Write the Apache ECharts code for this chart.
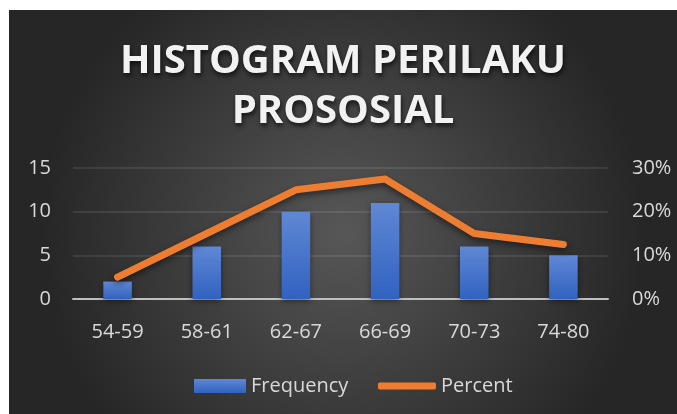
<!DOCTYPE html>
<html>
<head>
<meta charset="utf-8" />
<script type="text/javascript" src="https://cdn.jsdelivr.net/npm/echarts@6/dist/echarts.min.js"></script>
<title></title>
<style>
  html, body { margin:0; padding:0; background:#fff; }
  #main { position:absolute; left:9px; top:10px; width:668px; height:404px; }
</style>
</head>
<body>
<div id="main"></div>
<script>
// data
var categories = ['54-59', '58-61', '62-67', '66-69', '70-73', '74-80'];
var frequency = [2, 6, 10, 11, 6, 5];
var percent = [0.05, 0.15, 0.25, 0.275, 0.15, 0.125];
var titleText = 'HISTOGRAM PERILAKU\nPROSOSIAL';

var font = 'Open Sans';
var labelColor = '#d9d9d9';
var legendText = { fontFamily: font, fontSize: 20, color: labelColor };

var chart = echarts.init(document.getElementById('main'));
chart.setOption({
  backgroundColor: {
    type: 'radial', x: 0.5, y: 0.55, r: 0.75,
    colorStops: [
      { offset: 0, color: '#575757' },
      { offset: 1, color: '#262626' }
    ]
  },
  animation: false,
  title: {
    text: titleText,
    left: 'center',
    top: 22,
    textStyle: {
      fontFamily: font,
      fontSize: 40,
      fontWeight: 'bold',
      color: '#f2f2f2',
      lineHeight: 50,
      align: 'center',
      textShadowColor: 'rgba(0,0,0,0.7)',
      textShadowBlur: 5,
      textShadowOffsetX: 1,
      textShadowOffsetY: 3
    }
  },
  // two legends so each icon can have its own height
  legend: [
    {
      left: 180, top: 361,
      itemWidth: 52, itemHeight: 14,
      textStyle: legendText,
      data: [{ name: 'Frequency', icon: 'rect' }]
    },
    {
      left: 364, top: 361,
      itemWidth: 58, itemHeight: 7,
      itemGap: 4,
      textStyle: legendText,
      data: [{ name: 'Percent', icon: 'roundRect', itemStyle: { color: '#ed7d31' } }]
    }
  ],
  grid: { left: 64, right: 69, top: 158, bottom: 115, containLabel: false },
  xAxis: {
    type: 'category',
    data: categories,
    axisTick: { show: false },
    axisLine: { lineStyle: { color: '#bfbfbf', width: 2 } },
    axisLabel: { margin: 23, fontFamily: font, fontSize: 20, color: labelColor }
  },
  yAxis: [
    {
      type: 'value', min: 0, max: 15, interval: 5,
      axisLine: { show: false }, axisTick: { show: false },
      axisLabel: { margin: 22, fontFamily: font, fontSize: 20, color: labelColor },
      splitLine: { lineStyle: { color: 'rgba(255,255,255,0.13)', width: 1.5 } }
    },
    {
      type: 'value', min: 0, max: 0.3, interval: 0.1,
      axisLine: { show: false }, axisTick: { show: false },
      axisLabel: {
        margin: 24, fontFamily: font, fontSize: 20, color: labelColor,
        formatter: function (v) { return Math.round(v * 100) + '%'; }
      },
      splitLine: { show: false }
    }
  ],
  series: [
    {
      name: 'Frequency',
      type: 'bar',
      data: frequency,
      barWidth: '32%',
      itemStyle: {
        color: {
          type: 'linear', x: 0, y: 0, x2: 0, y2: 1,
          colorStops: [
            { offset: 0, color: '#5f88d4' },
            { offset: 1, color: '#3162c1' }
          ]
        },
        shadowColor: 'rgba(0,0,0,0.45)',
        shadowBlur: 6,
        shadowOffsetY: 2
      }
    },
    {
      name: 'Percent',
      type: 'line',
      yAxisIndex: 1,
      data: percent,
      symbol: 'none',
      itemStyle: { color: '#ed7d31' },
      lineStyle: {
        color: '#ed7d31',
        width: 7,
        cap: 'round',
        join: 'round',
        shadowColor: 'rgba(0,0,0,0.5)',
        shadowBlur: 6,
        shadowOffsetY: 3
      }
    }
  ]
});
</script>
</body>
</html>
